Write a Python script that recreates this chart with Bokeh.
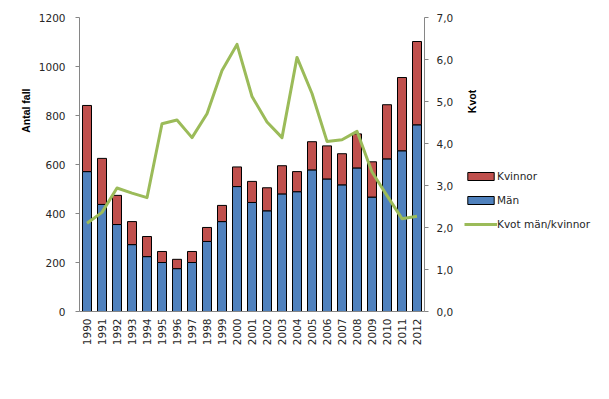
from math import pi
from bokeh.plotting import figure
from bokeh.layouts import row
from bokeh.models import (Range1d, LinearAxis, FixedTicker, CustomJSTickFormatter,
                          Legend, LegendItem, Label, Title, ColumnDataSource, FactorRange)
from bokeh.embed import file_html
from bokeh.resources import INLINE

years = [str(y) for y in range(1990, 2013)]
man = [571, 437, 355, 273, 224, 200, 175, 200, 286, 367, 510, 445, 411, 480, 489,
       578, 541, 517, 586, 467, 623, 656, 762]
kvinnor = [270, 188, 119, 94, 82, 45, 38, 45, 57, 66, 80, 86, 94, 115, 82,
           115, 135, 127, 139, 144, 221, 299, 340]
kvot = [2.10, 2.36, 2.94, 2.82, 2.71, 4.47, 4.56, 4.14, 4.71, 5.74, 6.36, 5.12, 4.51,
        4.14, 6.05, 5.19, 4.05, 4.09, 4.29, 3.32, 2.76, 2.21, 2.27]
left_ticks = [0, 200, 400, 600, 800, 1000, 1200]
right_ticks = [0, 1, 2, 3, 4, 5, 6, 7]

FONT = "DejaVu Sans"
TFONT = "Liberation Sans"
TXT = "#262626"
AX = "#868686"
RED = "#C0504D"
BLUE = "#4F81BD"
GREEN = "#9BBB59"

src = ColumnDataSource(dict(year=years, man=man, kvinnor=kvinnor, kvot=kvot))

p = figure(width=462, height=383, x_range=FactorRange(*years), y_range=Range1d(0, 1200),
           output_backend="svg", toolbar_location=None,
           min_border_left=79, min_border_right=38, min_border_top=17, min_border_bottom=72)
p.outline_line_color = None
p.xgrid.visible = False
p.ygrid.visible = False
p.extra_y_ranges = {"kvot": Range1d(0, 7)}

bars = p.vbar_stack(["man", "kvinnor"], x="year", width=0.6, source=src,
                    fill_color=[BLUE, RED], line_color="black", line_width=1)
ln = p.line(x="year", y="kvot", source=src, y_range_name="kvot",
            line_color=GREEN, line_width=3, line_join="round")

# left axis
ya = p.yaxis[0]
ya.ticker = FixedTicker(ticks=left_ticks)
ya.minor_tick_line_color = None
ya.major_tick_out = 4
ya.major_tick_in = 0
ya.axis_line_color = AX
ya.major_tick_line_color = AX
ya.major_label_standoff = 10
ya.major_label_text_font = FONT
ya.major_label_text_font_size = "10.5px"
ya.major_label_text_color = TXT

# right axis
ra = LinearAxis(y_range_name="kvot", ticker=FixedTicker(ticks=right_ticks),
                formatter=CustomJSTickFormatter(code="return tick.toFixed(1).replace('.', ',');"))
ra.minor_tick_line_color = None
ra.major_tick_out = 4
ra.major_tick_in = 0
ra.axis_line_color = AX
ra.major_tick_line_color = AX
ra.major_label_standoff = 8
ra.major_label_text_font = FONT
ra.major_label_text_font_size = "10.5px"
ra.major_label_text_color = TXT
p.add_layout(ra, "right")

# x axis
xa = p.xaxis[0]
xa.major_label_orientation = pi / 2
xa.major_tick_line_color = None
xa.major_tick_out = 0
xa.major_tick_in = 0
xa.axis_line_color = AX
xa.major_label_standoff = 7
xa.major_label_text_font = FONT
xa.major_label_text_font_size = "10.5px"
xa.major_label_text_color = TXT

# left axis title
p.add_layout(Title(text="Antal fall", align="right", offset=71, standoff=8,
                   text_font=TFONT, text_font_size="10.5px", text_font_style="bold",
                   text_color="black"), "left")

# side figure holding the right axis title and the legend
p2 = figure(width=131, height=383, output_backend="svg", toolbar_location=None,
            x_range=FactorRange(*years), y_range=Range1d(0, 1200),
            x_axis_location=None, y_axis_location=None,
            min_border_left=0, min_border_right=0, min_border_top=17, min_border_bottom=72)
p2.outline_line_color = None
p2.xgrid.visible = False
p2.ygrid.visible = False
# hidden copies of the series, used only to draw the legend keys
k_proxy = p2.vbar(x="year", top="kvinnor", source=src, width=0.6, fill_color=RED,
                  line_color="black", line_width=1, visible=False)
m_proxy = p2.vbar(x="year", top="man", source=src, width=0.6, fill_color=BLUE,
                  line_color="black", line_width=1, visible=False)
l_proxy = p2.line(x="year", y="man", source=src, line_color=GREEN, line_width=3,
                  visible=False)

p2.add_layout(Label(x=9, y=210, x_units="screen", y_units="screen", text="Kvot",
                    angle=pi / 2, text_align="center", text_baseline="middle",
                    text_font=TFONT, text_font_size="10.5px", text_font_style="bold",
                    text_color="black"))

legend = Legend(items=[LegendItem(label="Kvinnor", renderers=[k_proxy]),
                       LegendItem(label="Män", renderers=[m_proxy]),
                       LegendItem(label="Kvot män/kvinnor", renderers=[l_proxy])],
                location=(2, 81), orientation="vertical",
                glyph_width=33, glyph_height=10, label_height=10, spacing=12,
                label_standoff=0, padding=0, margin=0,
                inactive_fill_alpha=0, click_policy="none",
                border_line_color=None, background_fill_alpha=0,
                label_text_font=FONT, label_text_font_size="10.5px", label_text_color=TXT)
p2.add_layout(legend, "center")

layout = row(p, p2, spacing=0)
open("out.html", "w").write(file_html(layout, INLINE))
